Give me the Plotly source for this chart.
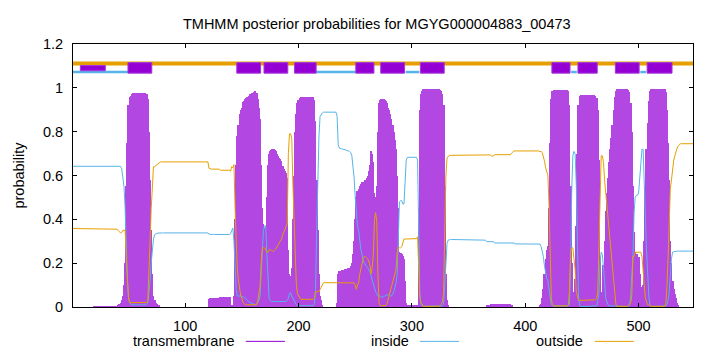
import plotly.graph_objects as go

# ---------------- data ----------------
SEQ_LEN = 548
TITLE = "TMHMM posterior probabilities for MGYG000004883_00473"
X_TICKS = [100, 200, 300, 400, 500]
Y_TICKS = [0, 0.2, 0.4, 0.6, 0.8, 1.0, 1.2]
Y_TICK_LABELS = ["0", "0.2", "0.4", "0.6", "0.8", "1", "1.2"]
LEGEND_LABELS = ["transmembrane", "inside", "outside"]

# predicted topology (residue ranges)
tm_segments = [(50, 70), (146, 166), (170, 190), (197, 215), (251, 266), (273, 293),
               (308, 328), (424, 439), (447, 463), (480, 500), (508, 529)]
inside_segments = [(1, 49), (216, 250), (295, 306), (441, 445), (502, 506)]
signal_segments = [(8, 29)]

# per-residue posterior probabilities (residues 1..548)
tm_prob = (
    [0.0] * 19 + [0.003] * 21 +                                              # 1-40
    [0.01, 0.015, 0.02, 0.03, 0.05, 0.10, 0.20, 0.55, 0.75, 0.92] +          # 41-50
    [0.96, 0.965, 0.97] + [0.975] * 12 +                                     # 51-65
    [0.97, 0.95, 0.80, 0.58, 0.35, 0.15, 0.05, 0.03, 0.02, 0.015, 0.01, 0.005] +  # 66-77
    [0.0] * 43 +                                                             # 78-120
    [0.035] + [0.04] * 9 + [0.045] * 10 +                                    # 121-140
    [0.01, 0.005, 0.05, 0.40, 0.65, 0.78, 0.83, 0.88, 0.90, 0.91,            # 141-150
     0.935, 0.94, 0.95, 0.955, 0.96, 0.965, 0.97, 0.97, 0.975, 0.975,        # 151-160
     0.98, 0.985, 0.975, 0.95, 0.91, 0.86, 0.65, 0.45, 0.38, 0.36,           # 161-170
     0.37, 0.50, 0.65, 0.70, 0.71, 0.715, 0.72, 0.72, 0.715, 0.71,           # 171-180
     0.70, 0.69, 0.68, 0.675, 0.665, 0.645, 0.63, 0.62, 0.61, 0.59,          # 181-190
     0.26, 0.15, 0.14, 0.18, 0.40, 0.60, 0.80, 0.88, 0.93, 0.945,            # 191-200
     0.955] +                                                                # 201
    [0.96] * 12 +                                                            # 202-213
    [0.945, 0.85, 0.58, 0.35, 0.15, 0.05, 0.03, 0.01] +                      # 214-221
    [0.0] * 12 +                                                             # 222-233
    [0.02, 0.15, 0.165, 0.165, 0.168, 0.17, 0.17, 0.172, 0.175, 0.175,       # 234-243
     0.178, 0.18, 0.185, 0.20, 0.24, 0.30, 0.40] +                           # 244-250
    [0.50, 0.53, 0.54, 0.55, 0.56, 0.57, 0.57, 0.57, 0.58, 0.59,             # 251-260
     0.60, 0.62, 0.65, 0.71, 0.70, 0.66, 0.52, 0.50, 0.55, 0.80,             # 261-270
     0.93, 0.945, 0.95, 0.95, 0.948, 0.945, 0.94, 0.93, 0.91, 0.90,          # 271-280
     0.88, 0.86, 0.83, 0.80, 0.76, 0.72, 0.60, 0.45, 0.25, 0.245,            # 281-290
     0.24, 0.235, 0.22, 0.12, 0.02] +                                        # 291-295
    [0.005] * 9 +                                                            # 296-304
    [0.01, 0.45, 0.90, 0.97, 0.985] +                                        # 305-309
    [0.994] * 15 +                                                           # 310-324
    [0.99, 0.985, 0.97, 0.92, 0.55, 0.15, 0.03, 0.01] +                      # 325-332
    [0.0] * 33 +                                                             # 333-365
    [0.008] * 4 + [0.013] * 18 + [0.006] +                                   # 366-388
    [0.0] * 24 +                                                             # 389-412
    [0.005, 0.015, 0.04, 0.08, 0.15, 0.22, 0.26, 0.28, 0.45, 0.75, 0.95, 0.985] +  # 413-424
    [0.99] * 13 +                                                            # 425-437
    [0.985, 0.92, 0.55, 0.20, 0.04, 0.07, 0.13, 0.37, 0.70, 0.92, 0.965] +   # 438-448
    [0.968] * 13 +                                                           # 449-461
    [0.965, 0.955, 0.90, 0.67, 0.23, 0.06, 0.07, 0.19, 0.30, 0.44,           # 462-471
     0.52, 0.59, 0.66, 0.72, 0.77, 0.83, 0.90, 0.96, 0.985] +                # 472-480
    [0.995] * 10 +                                                           # 481-490
    [0.99, 0.98, 0.93, 0.80, 0.55, 0.34, 0.25, 0.24, 0.24, 0.23,             # 491-500
     0.15, 0.09, 0.05, 0.10, 0.30, 0.55, 0.72, 0.84, 0.94, 0.985] +          # 501-510
    [0.995] * 13 +                                                           # 511-523
    [0.98, 0.90, 0.75, 0.58, 0.30, 0.20, 0.12, 0.08, 0.06, 0.04, 0.02, 0.01] +  # 524-535
    [0.0] * 13                                                               # 536-548
)

inside_prob = (
    [0.642] * 43 +                                                           # 1-43
    [0.63, 0.60, 0.55, 0.45, 0.22, 0.12, 0.04, 0.02] +                       # 44-51
    [0.01] * 15 +                                                            # 52-66
    [0.02, 0.06, 0.12, 0.20, 0.27, 0.31, 0.33, 0.335, 0.336, 0.337] +        # 67-76
    [0.338] * 44 +                                                           # 77-120
    [0.332] + [0.331] * 18 +                                                 # 121-139
    [0.335, 0.35, 0.36, 0.30, 0.15, 0.08, 0.05, 0.05, 0.05, 0.05,            # 140-149
     0.05, 0.045, 0.045, 0.04, 0.035, 0.03, 0.025, 0.02, 0.02, 0.015,        # 150-159
     0.015, 0.01, 0.01, 0.015, 0.02, 0.03, 0.05, 0.15, 0.28, 0.35,           # 160-169
     0.37, 0.37, 0.25, 0.10, 0.04, 0.03] +                                   # 170-175
    [0.025] * 14 +                                                           # 176-189
    [0.03, 0.04, 0.06, 0.066, 0.05, 0.04, 0.03, 0.02, 0.01, 0.008] +         # 190-199
    [0.006] * 14 +                                                           # 200-213
    [0.015, 0.08, 0.35, 0.58, 0.78, 0.87, 0.88, 0.885] +                     # 214-221
    [0.889] * 12 +                                                           # 222-233
    [0.87, 0.74, 0.725, 0.725, 0.722, 0.72, 0.72, 0.718, 0.715, 0.715,       # 234-243
     0.712, 0.71, 0.705, 0.69, 0.65, 0.59, 0.50, 0.42, 0.37, 0.35,           # 244-253
     0.30, 0.26, 0.24, 0.21, 0.20, 0.19, 0.185, 0.18, 0.17, 0.16,            # 254-263
     0.14, 0.12, 0.10, 0.08, 0.07, 0.06, 0.05, 0.05, 0.05, 0.045,            # 264-273
     0.045, 0.047, 0.05, 0.053, 0.055, 0.055, 0.055, 0.05, 0.05, 0.06,       # 274-283
     0.07, 0.09, 0.11, 0.15, 0.28, 0.48, 0.485, 0.485, 0.47, 0.47,           # 284-293
     0.57, 0.67] +                                                           # 294-295
    [0.683] * 9 +                                                            # 296-304
    [0.67, 0.40, 0.06, 0.01, 0.005] +                                        # 305-309
    [0.003] * 17 +                                                           # 310-326
    [0.005, 0.01, 0.10, 0.25, 0.29, 0.305] +                                 # 327-332
    [0.308] * 28 + [0.305] * 5 + [0.298] * 7 +                               # 333-372
    [0.292] * 18 + [0.288] * 22 +                                            # 373-412
    [0.287, 0.275, 0.255, 0.23, 0.185, 0.145, 0.13, 0.12, 0.09, 0.05, 0.01, 0.005] +  # 413-424
    [0.005] * 14 +                                                           # 425-438
    [0.01, 0.20, 0.53, 0.69, 0.71, 0.70, 0.56, 0.26, 0.05, 0.005] +          # 439-448
    [0.002] * 14 +                                                           # 449-462
    [0.005, 0.03, 0.06, 0.20, 0.25, 0.24, 0.15, 0.12, 0.04, 0.02, 0.01] +    # 463-473
    [0.005] * 7 + [0.002] * 11 +                                             # 474-491
    [0.01, 0.05, 0.15, 0.22, 0.43, 0.50, 0.51, 0.51, 0.52, 0.60,             # 492-501
     0.66, 0.72, 0.72, 0.60, 0.41, 0.26, 0.15, 0.05, 0.01] +                 # 502-510
    [0.002] * 13 +                                                           # 511-523
    [0.005, 0.01, 0.03, 0.07, 0.16, 0.22, 0.25, 0.252, 0.253, 0.254] +       # 524-533
    [0.255] * 15                                                             # 534-548
)

outside_prob = (
    [0.358] * 29 + [0.355] * 11 +                                            # 1-40
    [0.348, 0.343, 0.338, 0.34, 0.35, 0.35, 0.35, 0.23, 0.13, 0.04, 0.02] +  # 41-51
    [0.02] * 15 +                                                            # 52-66
    [0.03, 0.14, 0.30, 0.45, 0.58, 0.64, 0.64, 0.645, 0.649, 0.653, 0.657] + # 67-77
    [0.662] * 43 +                                                           # 78-120
    [0.633] + [0.629] * 9 + [0.624] * 9 +                                    # 121-139
    [0.62, 0.64, 0.635, 0.65, 0.45, 0.27, 0.17, 0.12, 0.07, 0.05, 0.04, 0.02, 0.015] +  # 140-152
    [0.01] * 11 +                                                            # 153-163
    [0.03, 0.06, 0.09, 0.20, 0.27, 0.27, 0.27, 0.26, 0.25, 0.25,             # 164-173
     0.26, 0.26, 0.26, 0.255, 0.255, 0.26, 0.265, 0.275, 0.285, 0.295,       # 174-183
     0.30, 0.31, 0.33, 0.345, 0.355, 0.365, 0.38, 0.70, 0.79, 0.79,          # 184-193
     0.77, 0.56, 0.37, 0.18, 0.11, 0.06, 0.05, 0.04] +                       # 194-201
    [0.035] * 12 +                                                           # 202-213
    [0.04, 0.07, 0.07, 0.07, 0.07, 0.08, 0.09, 0.105] +                      # 214-221
    [0.111] * 12 + [0.11] * 16 +                                             # 222-249
    [0.10, 0.08, 0.10, 0.11, 0.15, 0.18, 0.19, 0.22, 0.23, 0.23,             # 250-259
     0.225, 0.22, 0.21, 0.19, 0.15, 0.18, 0.24, 0.40, 0.43, 0.39,            # 260-269
     0.15, 0.02, 0.005, 0.005, 0.005, 0.005, 0.005, 0.007, 0.015, 0.035,     # 270-279
     0.045, 0.07, 0.09, 0.11, 0.13, 0.15, 0.17, 0.25, 0.27, 0.27,            # 280-289
     0.27, 0.275, 0.295, 0.31, 0.31, 0.31] +                                 # 290-295
    [0.312] * 9 +                                                            # 296-304
    [0.32, 0.15, 0.04, 0.02, 0.01] +                                         # 305-309
    [0.003] * 15 +                                                           # 310-324
    [0.007, 0.012, 0.025, 0.07, 0.35, 0.60, 0.68, 0.685] +                   # 325-332
    [0.692] * 28 + [0.695] * 5 + [0.694] * 4 + [0.689] * 3 +                 # 333-372
    [0.695] * 15 + [0.702, 0.71] + [0.712] * 23 +                            # 373-412
    [0.708, 0.71, 0.705, 0.69, 0.665, 0.635, 0.61, 0.60, 0.46, 0.20, 0.04, 0.01] +  # 413-424
    [0.005] * 13 +                                                           # 425-437
    [0.01, 0.07, 0.25, 0.27, 0.27, 0.22, 0.17, 0.07, 0.04, 0.03, 0.03] +     # 438-448
    [0.03] * 13 +                                                            # 449-461
    [0.033, 0.04, 0.07, 0.27, 0.57, 0.69, 0.69, 0.66, 0.58, 0.52,            # 462-471
     0.46, 0.40, 0.335, 0.275, 0.225, 0.165, 0.095, 0.035, 0.01] +           # 472-480
    [0.003] * 10 +                                                           # 481-490
    [0.008, 0.01, 0.02, 0.05, 0.23, 0.23, 0.25, 0.25, 0.25, 0.25,            # 491-500
     0.25, 0.25, 0.23, 0.18, 0.10, 0.04, 0.02, 0.01, 0.01, 0.005] +          # 501-510
    [0.003] * 13 +                                                           # 511-523
    [0.015, 0.09, 0.22, 0.35, 0.54, 0.58, 0.63, 0.67, 0.69, 0.71, 0.725, 0.735, 0.74] +  # 524-536
    [0.745] * 12                                                             # 537-548
)

for name, arr in (("tm", tm_prob), ("inside", inside_prob), ("outside", outside_prob)):
    if len(arr) != SEQ_LEN:
        raise SystemExit(f"{name} has {len(arr)} values")

residues = list(range(1, SEQ_LEN + 1))

# ---------------- style ----------------
C_TM = "#9400D3"
C_TM_FILL = "#b247e1"
C_IN = "#56B4E9"
C_OUT = "#E69F00"
FONT = "Liberation Sans"
FS = 14.5
OUT_BAR_Y = 1.111
IN_BAR_Y = 1.072
BOX_Y = (1.067, 1.115)
SIG_Y = (1.078, 1.102)


def box_path(segments, y0, y1):
    xs, ys = [], []
    for s, e in segments:
        a, b = s - 0.5, e + 0.5
        xs += [a, b, b, a, a, None]
        ys += [y0, y0, y1, y1, y0, None]
    return xs, ys


def seg_path(segments, y):
    xs, ys = [], []
    for s, e in segments:
        xs += [max(1, s - 0.5), e + 0.5, None]
        ys += [y, y, None]
    return xs, ys


fig = go.Figure()

# transmembrane impulses
fig.add_trace(go.Bar(x=residues, y=tm_prob, width=1.0, marker=dict(color=C_TM_FILL, line=dict(width=0)),
                     showlegend=False, hoverinfo="skip"))
# inside / outside curves
fig.add_trace(go.Scatter(x=residues, y=inside_prob, mode="lines", line=dict(color=C_IN, width=1),
                         showlegend=False, hoverinfo="skip"))
fig.add_trace(go.Scatter(x=residues, y=outside_prob, mode="lines", line=dict(color=C_OUT, width=1),
                         showlegend=False, hoverinfo="skip"))

# topology bar at top
fig.add_trace(go.Scatter(x=[1, SEQ_LEN], y=[OUT_BAR_Y, OUT_BAR_Y], mode="lines",
                         line=dict(color=C_OUT, width=4), showlegend=False, hoverinfo="skip"))
ix, iy = seg_path(inside_segments, IN_BAR_Y)
fig.add_trace(go.Scatter(x=ix, y=iy, mode="lines", line=dict(color=C_IN, width=2.5),
                         showlegend=False, hoverinfo="skip"))
bx, by = box_path(tm_segments, *BOX_Y)
fig.add_trace(go.Scatter(x=bx, y=by, mode="lines", fill="toself", fillcolor=C_TM,
                         line=dict(color="#a535dc", width=1), showlegend=False, hoverinfo="skip"))
sx, sy = box_path(signal_segments, *SIG_Y)
fig.add_trace(go.Scatter(x=sx, y=sy, mode="lines", fill="toself", fillcolor=C_TM,
                         line=dict(color="#a535dc", width=1), showlegend=False, hoverinfo="skip"))

# gnuplot-style legend under the plot: label then line sample
legend_items = [(LEGEND_LABELS[0], C_TM, 0.2643, 0.2787, 0.3418),
                (LEGEND_LABELS[1], C_IN, 0.5447, 0.5597, 0.6226),
                (LEGEND_LABELS[2], C_OUT, 0.8261, 0.8415, 0.9046)]
LEG_Y = -0.1307
annotations = []
shapes = []
for label, col, tx, lx0, lx1 in legend_items:
    annotations.append(dict(text=label, x=tx, y=LEG_Y, xref="paper", yref="paper",
                            xanchor="right", yanchor="middle", showarrow=False,
                            font=dict(family=FONT, size=FS, color="black")))
    shapes.append(dict(type="line", xref="paper", yref="paper", x0=lx0, x1=lx1, y0=LEG_Y, y1=LEG_Y,
                       line=dict(color=col, width=1)))

fig.update_layout(
    width=720, height=352,
    margin=dict(l=73, r=27, t=44, b=45),
    paper_bgcolor="white", plot_bgcolor="white",
    barmode="overlay", bargap=0,
    font=dict(family=FONT, size=FS, color="black"),
    title=dict(text=TITLE, x=0.49, xref="paper", xanchor="center", y=1 - 24 / 352, yref="container",
               yanchor="middle", font=dict(family=FONT, size=FS, color="black")),
    annotations=annotations, shapes=shapes,
    showlegend=False,
)
fig.update_xaxes(range=[1, SEQ_LEN], tickvals=X_TICKS, ticks="inside", ticklen=4, tickcolor="black",
                 showline=True, linecolor="black", linewidth=1, mirror="ticks",
                 showgrid=False, zeroline=False, ticklabelstandoff=6,
                 tickfont=dict(family=FONT, size=FS, color="black"))
fig.update_yaxes(range=[0, 1.2], tickvals=Y_TICKS, ticktext=Y_TICK_LABELS, ticks="inside", ticklen=4,
                 tickcolor="black", showline=True, linecolor="black", linewidth=1, mirror="ticks",
                 showgrid=False, zeroline=False, ticklabelstandoff=6,
                 title=dict(text="probability", standoff=14, font=dict(family=FONT, size=FS, color="black")),
                 tickfont=dict(family=FONT, size=FS, color="black"))

fig.write_html("out.html")
